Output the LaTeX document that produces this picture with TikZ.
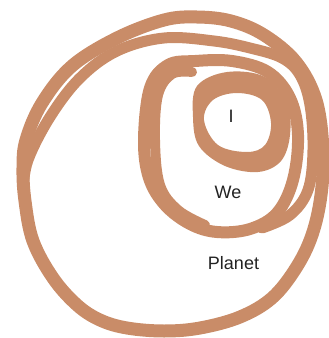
\documentclass[tikz,border=0pt]{standalone}
\usepackage{fontspec}
\setmainfont{Liberation Sans}
\definecolor{loopColor}{HTML}{C98C68}
\definecolor{textColor}{HTML}{222222}

\begin{document}
\begin{tikzpicture}[x=1pt, y=-1pt,
    scribble/.style={draw=loopColor, line width=12pt, line cap=round, line join=round},
    ringText/.style={text=textColor, inner sep=0pt, font=\fontsize{18}{21}\selectfont}]
    \useasboundingbox (0,0) rectangle (329,338);
    % planet ring
    \draw[scribble, line width=13pt] plot[smooth cycle, tension=0.6] coordinates {
        (164,20) (197,17) (231,21) (264,35) (296,62) (316,100) (323,150) (321,195)
        (312,235) (296,268) (272,298) (240,317) (200,328) (164,331) (127,328) (100,320)
        (77,305) (53,278) (33,241) (25,201) (23,168) (26,140) (42,103) (72,66) (117,38)};
    \draw[scribble, line width=11pt] plot[smooth, tension=0.6] coordinates {
        (23,190) (28,160) (50,117) (80,78) (117,51) (164,38) (214,41) (250,48) (282,58)
        (300,75) (310,105) (313,150) (308,190) (290,215) (262,228)};
    % we ring
    \draw[scribble] plot[smooth cycle, tension=0.6] coordinates {
        (144,140) (149,178) (165,205) (190,224) (217,232) (250,229) (277,213) (293,180)
        (298,135) (290,98) (268,72) (232,61) (195,61) (168,65) (150,88)};
    \draw[scribble, line width=10pt] plot[smooth, tension=0.6] coordinates {
        (192,72) (172,74) (158,95) (155,140) (160,185) (178,210) (205,225)};
    % i ring
    \fill[loopColor, even odd rule]
        plot[smooth cycle, tension=0.6] coordinates {
            (193,117) (197,86) (227,72) (265,77) (287,104) (290,135) (281,161) (258,172)
            (225,166) (199,146)}
        plot[smooth cycle, tension=0.6] coordinates {
            (204,120) (213,100) (237,93) (262,100) (271,123) (265,145) (247,152) (218,145)};
    \node[ringText] (i) at (231,116) {I};
    \node[ringText] (we) at (228,192) {We};
    \node[ringText] (planet) at (233.5,263) {Planet};
\end{tikzpicture}
\end{document}
